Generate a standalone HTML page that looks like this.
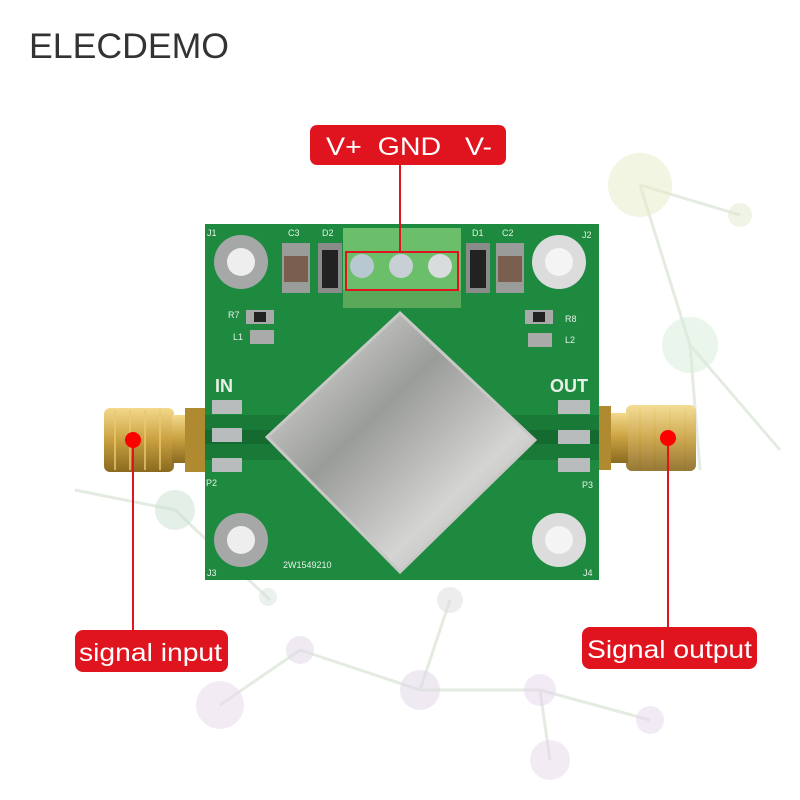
<!DOCTYPE html>
<html><head><meta charset="utf-8"><style>
html,body{margin:0;padding:0;background:#fff;width:800px;height:800px;overflow:hidden}
svg{display:block}
text{font-family:"Liberation Sans",sans-serif}
</style></head><body>
<svg width="800" height="800" viewBox="0 0 800 800" xmlns="http://www.w3.org/2000/svg">
<defs>
<linearGradient id="metal" x1="0" y1="0" x2="1" y2="1">
<stop offset="0" stop-color="#e8e8e6"/><stop offset="0.4" stop-color="#9a9c9a"/><stop offset="0.7" stop-color="#d4d4d2"/><stop offset="1" stop-color="#a8a9a7"/></linearGradient>
<linearGradient id="gold" x1="0" y1="0" x2="0" y2="1">
<stop offset="0" stop-color="#f3d98a"/><stop offset="0.5" stop-color="#c9a040"/><stop offset="1" stop-color="#8a6a20"/></linearGradient>
</defs>
<g stroke="#e4ece2" stroke-width="3" fill="none">
<line x1="640" y1="185" x2="740" y2="215"/><line x1="640" y1="185" x2="690" y2="345"/><line x1="690" y1="345" x2="780" y2="450"/>
<line x1="690" y1="345" x2="700" y2="470"/><line x1="175" y1="510" x2="270" y2="600"/><line x1="175" y1="510" x2="75" y2="490"/>
<line x1="300" y1="650" x2="420" y2="690"/><line x1="420" y1="690" x2="540" y2="690"/><line x1="540" y1="690" x2="650" y2="720"/>
<line x1="420" y1="690" x2="450" y2="600"/><line x1="220" y1="705" x2="300" y2="650"/><line x1="540" y1="690" x2="550" y2="760"/>
</g>
<g opacity="0.5">
<circle cx="640" cy="185" r="32" fill="#e8ecc8"/><circle cx="740" cy="215" r="12" fill="#e0ead0"/>
<circle cx="690" cy="345" r="28" fill="#d6ecd8"/><circle cx="175" cy="510" r="20" fill="#c8e0d0"/>
<circle cx="420" cy="690" r="20" fill="#e0d6e6"/><circle cx="300" cy="650" r="14" fill="#e0d6e6"/>
<circle cx="220" cy="705" r="24" fill="#e8d8ea"/><circle cx="540" cy="690" r="16" fill="#e6d6ea"/>
<circle cx="550" cy="760" r="20" fill="#e8d8ea"/><circle cx="650" cy="720" r="14" fill="#e6d6ea"/>
<circle cx="450" cy="600" r="13" fill="#dcdcdc"/><circle cx="268" cy="597" r="9" fill="#d8e4dc"/>
</g>
<text x="29" y="58" font-size="35" fill="#333" textLength="200" lengthAdjust="spacingAndGlyphs">ELECDEMO</text>
<rect x="104" y="408" width="70" height="64" rx="6" fill="url(#gold)"/>
<g stroke="#e8c870" stroke-width="1.5"><line x1="115" y1="410" x2="115" y2="470"/><line x1="130" y1="410" x2="130" y2="470"/><line x1="145" y1="410" x2="145" y2="470"/><line x1="160" y1="410" x2="160" y2="470"/>
<line x1="640" y1="407" x2="640" y2="469"/><line x1="655" y1="407" x2="655" y2="469"/><line x1="670" y1="407" x2="670" y2="469"/><line x1="685" y1="407" x2="685" y2="469"/></g>
<rect x="172" y="415" width="25" height="48" fill="url(#gold)"/>
<rect x="185" y="408" width="20" height="64" fill="#b08a30"/>
<rect x="626" y="405" width="70" height="66" rx="6" fill="url(#gold)" opacity="0.9"/>
<rect x="603" y="413" width="25" height="50" fill="url(#gold)"/>
<rect x="593" y="406" width="18" height="64" fill="#b08a30"/>
<rect x="205" y="224" width="394" height="356" fill="#1d8a3f"/>
<rect x="205" y="415" width="394" height="45" fill="#187a36"/>
<rect x="205" y="430" width="394" height="14" fill="#156a30"/>
<g fill="#b8bcbc">
<rect x="212" y="400" width="30" height="14"/><rect x="212" y="428" width="30" height="14"/><rect x="212" y="458" width="30" height="14"/>
<rect x="558" y="400" width="32" height="14"/><rect x="558" y="430" width="32" height="14"/><rect x="558" y="458" width="32" height="14"/>
</g>
<g>
<circle cx="241" cy="262" r="27" fill="#a5a8a6"/><circle cx="241" cy="262" r="14" fill="#eee"/>
<circle cx="559" cy="262" r="27" fill="#dcdcdc"/><circle cx="559" cy="262" r="14" fill="#f4f4f4"/>
<circle cx="241" cy="540" r="27" fill="#a5a8a6"/><circle cx="241" cy="540" r="14" fill="#eee"/>
<circle cx="559" cy="540" r="27" fill="#dcdcdc"/><circle cx="559" cy="540" r="14" fill="#f4f4f4"/>
</g>
<rect x="282" y="243" width="28" height="50" fill="#9a9c9a"/><rect x="284" y="256" width="24" height="26" fill="#7a5e4e"/>
<rect x="318" y="243" width="24" height="50" fill="#8a8c8a"/><rect x="322" y="250" width="16" height="38" fill="#222"/>
<rect x="466" y="243" width="24" height="50" fill="#8a8c8a"/><rect x="470" y="250" width="16" height="38" fill="#222"/>
<rect x="496" y="243" width="28" height="50" fill="#9a9c9a"/><rect x="498" y="256" width="24" height="26" fill="#7a5e4e"/>
<rect x="246" y="310" width="28" height="14" fill="#aaa"/><rect x="254" y="312" width="12" height="10" fill="#222"/>
<rect x="250" y="330" width="24" height="14" fill="#aaa"/>
<rect x="525" y="310" width="28" height="14" fill="#aaa"/><rect x="533" y="312" width="12" height="10" fill="#222"/>
<rect x="528" y="333" width="24" height="14" fill="#aaa"/>
<g font-family="Liberation Serif,serif" fill="#e8f0e8" font-size="9">
<text x="207" y="236">J1</text><text x="582" y="238">J2</text><text x="207" y="576">J3</text><text x="583" y="576">J4</text>
<text x="288" y="236">C3</text><text x="322" y="236">D2</text><text x="472" y="236">D1</text><text x="502" y="236">C2</text>
<text x="228" y="318">R7</text><text x="233" y="340">L1</text><text x="565" y="322">R8</text><text x="565" y="343">L2</text>
<text x="206" y="486">P2</text><text x="582" y="488">P3</text>
<text x="283" y="568" font-family="Liberation Sans,sans-serif" font-size="9">2W1549210</text>
</g>
<text x="215" y="392" font-family="Liberation Serif,serif" font-weight="bold" font-size="18" fill="#e8f0e8">IN</text>
<text x="550" y="392" font-family="Liberation Serif,serif" font-weight="bold" font-size="18" fill="#e8f0e8">OUT</text>
<rect x="343" y="228" width="118" height="80" fill="#6cbf6a"/>
<rect x="343" y="290" width="118" height="18" fill="#5aa85a"/>
<circle cx="362" cy="266" r="12" fill="#b8c8d0"/><circle cx="401" cy="266" r="12" fill="#c8d0d6"/><circle cx="440" cy="266" r="12" fill="#d8dcdc"/>
<rect x="346" y="252" width="112" height="38" fill="none" stroke="#e0141e" stroke-width="2"/>
<polygon points="400,313 535,440 400,572 267,437" fill="url(#metal)" stroke="#c8c8c6" stroke-width="3"/>
<line x1="400" y1="163" x2="400" y2="252" stroke="#e0141e" stroke-width="2"/>
<rect x="310" y="125" width="196" height="40" rx="7" fill="#e0141e"/>
<text x="326" y="155" font-size="25" fill="#fff" textLength="166" lengthAdjust="spacingAndGlyphs">V+&#160; GND &#160;&#160;V-</text>
<line x1="133" y1="440" x2="133" y2="630" stroke="#e0141e" stroke-width="2"/>
<circle cx="133" cy="440" r="8" fill="#f00"/>
<rect x="75" y="630" width="153" height="42" rx="8" fill="#e0141e"/>
<text x="79" y="661" font-size="25" fill="#fff" textLength="143" lengthAdjust="spacingAndGlyphs">signal input</text>
<line x1="668" y1="438" x2="668" y2="628" stroke="#e0141e" stroke-width="2"/>
<circle cx="668" cy="438" r="8" fill="#f00"/>
<rect x="582" y="627" width="175" height="42" rx="8" fill="#e0141e"/>
<text x="587" y="658" font-size="25" fill="#fff" textLength="165" lengthAdjust="spacingAndGlyphs">Signal output</text>
</svg>
</body></html>
